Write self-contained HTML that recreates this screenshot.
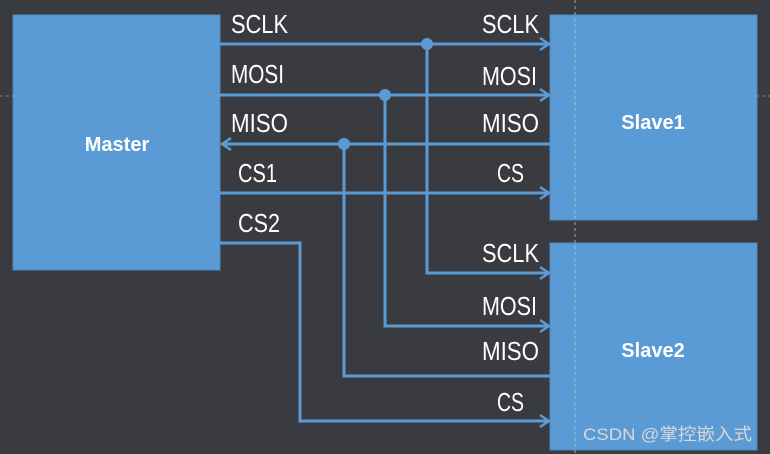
<!DOCTYPE html>
<html><head><meta charset="utf-8"><style>
html,body{margin:0;padding:0;background:#3a3b40;}
svg{display:block}
</style></head><body>
<svg width="770" height="454" viewBox="0 0 770 454" xmlns="http://www.w3.org/2000/svg">
<rect width="770" height="454" fill="#3a3b40"/>
<rect x="13" y="15" width="207" height="255" fill="#5b9bd5" stroke="#4f8ac0" stroke-width="1"/>
<rect x="550" y="15" width="207" height="205" fill="#5b9bd5" stroke="#4f8ac0" stroke-width="1"/>
<rect x="550" y="243" width="207" height="207" fill="#5b9bd5" stroke="#4f8ac0" stroke-width="1"/>
<line x1="0" y1="96" x2="770" y2="96" stroke="#9a9a9a" stroke-width="1" stroke-dasharray="3,3" opacity="0.7"/>
<line x1="575" y1="0" x2="575" y2="454" stroke="#cfcfcf" stroke-width="1" stroke-dasharray="3,3" opacity="0.7"/>
<g stroke="#5b9bd5" stroke-width="3" fill="none">
<line x1="220" y1="44" x2="548" y2="44"/>
<line x1="220" y1="95" x2="548" y2="95"/>
<line x1="223" y1="144" x2="550" y2="144"/>
<line x1="220" y1="193" x2="548" y2="193"/>
<polyline points="220,243 300,243 300,421 548,421"/>
<polyline points="427,44 427,273 548,273"/>
<polyline points="385,95 385,326 548,326"/>
<polyline points="344,144 344,376 550,376"/>
<g stroke-width="2.5">
<polyline points="540,38 549,44 540,50"/>
<polyline points="540,89 549,95 540,101"/>
<polyline points="231,138 222,144 231,150"/>
<polyline points="540,187 549,193 540,199"/>
<polyline points="540,267 549,273 540,279"/>
<polyline points="540,320 549,326 540,332"/>
<polyline points="540,415 549,421 540,427"/>
</g>
</g>
<g fill="#5b9bd5">
<circle cx="427" cy="44" r="6"/>
<circle cx="385" cy="95" r="6"/>
<circle cx="344" cy="144" r="6"/>
</g>
<g fill="#ffffff" font-family="Liberation Sans, sans-serif" font-size="26" lengthAdjust="spacingAndGlyphs">
<text x="231" y="33" textLength="57" lengthAdjust="spacingAndGlyphs">SCLK</text>
<text x="231" y="83" textLength="53" lengthAdjust="spacingAndGlyphs">MOSI</text>
<text x="231" y="132" textLength="57" lengthAdjust="spacingAndGlyphs">MISO</text>
<text x="238" y="182" textLength="39" lengthAdjust="spacingAndGlyphs">CS1</text>
<text x="238" y="232" textLength="42" lengthAdjust="spacingAndGlyphs">CS2</text>
<text x="482" y="33" textLength="57" lengthAdjust="spacingAndGlyphs">SCLK</text>
<text x="482" y="85" textLength="55" lengthAdjust="spacingAndGlyphs">MOSI</text>
<text x="482" y="132" textLength="57" lengthAdjust="spacingAndGlyphs">MISO</text>
<text x="497" y="182" textLength="27" lengthAdjust="spacingAndGlyphs">CS</text>
<text x="482" y="262" textLength="57" lengthAdjust="spacingAndGlyphs">SCLK</text>
<text x="482" y="315" textLength="55" lengthAdjust="spacingAndGlyphs">MOSI</text>
<text x="482" y="360" textLength="57" lengthAdjust="spacingAndGlyphs">MISO</text>
<text x="497" y="411" textLength="27" lengthAdjust="spacingAndGlyphs">CS</text>
</g>
<g fill="#ffffff" font-family="Liberation Sans, sans-serif" font-size="20" font-weight="bold" text-anchor="middle">
<text x="117" y="151">Master</text>
<text x="653" y="129">Slave1</text>
<text x="653" y="357">Slave2</text>
</g>
<text x="583" y="440" fill="#d8d8d8" font-family="Liberation Sans, 'Noto Sans CJK SC', sans-serif" font-size="17" textLength="169" lengthAdjust="spacingAndGlyphs">CSDN @掌控嵌入式</text>
</svg>
</body></html>
